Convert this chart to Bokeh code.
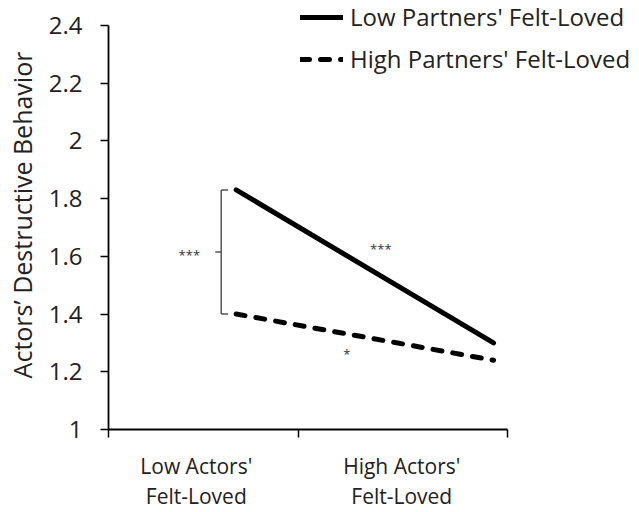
from bokeh.plotting import figure
from bokeh.models import Range1d, FixedTicker, Legend, LegendItem, ColumnDataSource
from bokeh.core.properties import value
from bokeh.embed import file_html
from bokeh.resources import INLINE

# ---- data ----
x_labels = ["Low Actors'\nFelt-Loved", "High Actors'\nFelt-Loved"]
x_label_pos = [0.44, 1.47]
x_bounds = [0.0, 0.95, 2.0]
x_points = [0.64, 1.93]
low_partner = [1.83, 1.30]
high_partner = [1.40, 1.24]
series_names = ["Low Partners' Felt-Loved", "High Partners' Felt-Loved"]
y_ticks = [1.0, 1.2, 1.4, 1.6, 1.8, 2.0, 2.2, 2.4]
y_tick_labels = ["1", "1.2", "1.4", "1.6", "1.8", "2", "2.2", "2.4"]
sig_between = "***"
sig_low = "***"
sig_high = "*"

FONT = "Open Sans"

# frame: x 0..2 spans 399 px; y 1..2.4 spans 406 px. Frame extended so legend fits.
FRAME_L, FRAME_R, FRAME_T, FRAME_B = 108, 637, 0, 431
x_end = 2 * (FRAME_R - FRAME_L) / 399
y_end = 1 + 1.4 * (FRAME_B - FRAME_T) / 406

p = figure(width=639, height=512, output_backend="svg", toolbar_location=None,
           x_range=Range1d(0, x_end), y_range=Range1d(1, y_end),
           min_border_left=FRAME_L, min_border_right=639 - FRAME_R,
           min_border_top=FRAME_T, min_border_bottom=512 - FRAME_B)
p.outline_line_color = None
p.grid.visible = False
p.background_fill_color = "white"
p.border_fill_color = "white"

# y axis
ya = p.yaxis[0]
ya.bounds = (1, 2.4)
ya.ticker = FixedTicker(ticks=y_ticks, minor_ticks=[])
ya.major_label_overrides = {t: l for t, l in zip(y_ticks, y_tick_labels)}
ya.axis_label = "Actors’ Destructive Behavior"
ya.axis_label_text_font = FONT
ya.axis_label_text_font_size = "25px"
ya.axis_label_text_font_style = "normal"
ya.axis_label_text_color = "#222222"
ya.axis_label_standoff = 7
ya.major_label_text_font = FONT
ya.major_label_text_font_size = "24px"
ya.major_label_text_color = "#222222"
ya.major_label_standoff = 18
ya.major_tick_out = 8
ya.major_tick_in = 0
ya.major_tick_line_width = 1.5
ya.axis_line_width = 1.8
ya.axis_line_color = "black"
ya.major_tick_line_color = "black"

# x axis
xa = p.xaxis[0]
xa.bounds = (0, 2)
xa.ticker = FixedTicker(ticks=x_label_pos, minor_ticks=x_bounds)
xa.major_label_overrides = {t: l for t, l in zip(x_label_pos, x_labels)}
xa.major_label_text_font = FONT
xa.major_label_text_font_size = "21px"
xa.major_label_text_color = "#222222"
xa.major_label_text_line_height = 1.08
xa.major_label_standoff = 14
xa.major_tick_out = 0
xa.major_tick_in = 0
xa.minor_tick_out = 8
xa.minor_tick_in = 0
xa.minor_tick_line_width = 1.5
xa.minor_tick_line_color = "black"
xa.axis_line_width = 1.8
xa.axis_line_color = "black"

# data lines
src = ColumnDataSource(dict(x=x_points, low=low_partner, high=high_partner))
r_low = p.line("x", "low", source=src, line_color="black", line_width=5, line_cap="round")
r_high = p.line("x", "high", source=src, line_color="black", line_width=5,
                line_dash="9 11", line_cap="round")

# bracket between the two series at the low-actor point
bx = x_points[0] - 0.075
top, bot = low_partner[0], high_partner[0]
mid = (top + bot) / 2
p.segment(x0=[bx, bx, bx, bx - 0.03], y0=[top, top, bot, mid],
          x1=[bx, bx + 0.035, bx + 0.035, bx], y1=[bot, top, bot, mid],
          line_color="#555555", line_width=1.5)

txt = dict(text_font=value(FONT), text_font_size="13px", text_color="#333333",
           text_align="center", text_baseline="middle")
p.text(x=[bx - 0.16], y=[mid - 0.01], text=[sig_between], **txt)
p.text(x=[(x_points[0] + x_points[1]) / 2 + 0.08], y=[(low_partner[0] + low_partner[1]) / 2 + 0.06],
       text=[sig_low], **txt)
p.text(x=[(x_points[0] + x_points[1]) / 2 - 0.09], y=[(high_partner[0] + high_partner[1]) / 2 - 0.06],
       text=[sig_high], **txt)

legend = Legend(items=[LegendItem(label=series_names[0], renderers=[r_low]),
                       LegendItem(label=series_names[1], renderers=[r_high])],
                location=(192, 354), orientation="vertical",
                glyph_width=43, glyph_height=24, label_height=24, spacing=9,
                label_standoff=7, padding=0, margin=0,
                border_line_color=None, background_fill_alpha=0,
                label_text_font=FONT, label_text_font_size="24px",
                label_text_color="#222222")
p.add_layout(legend, "center")

open("out.html", "w").write(file_html(p, INLINE))
